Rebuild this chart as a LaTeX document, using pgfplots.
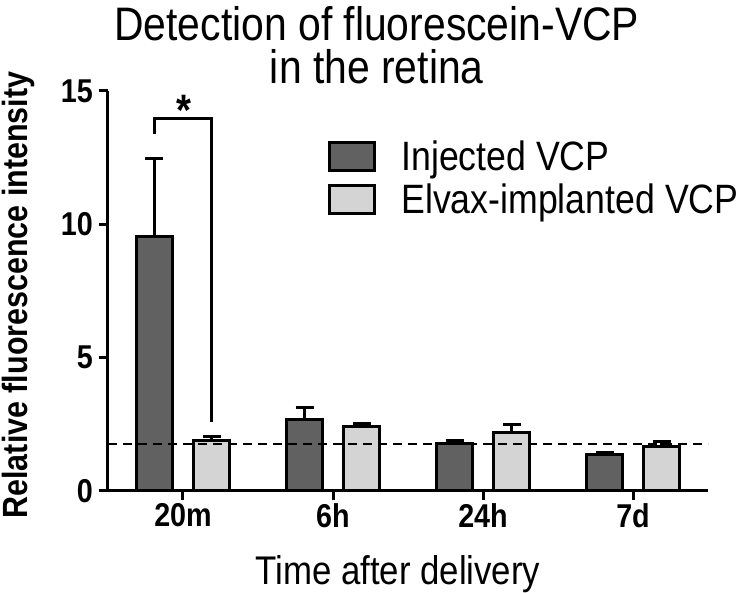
\documentclass[border=0pt]{standalone}
\usepackage{fontspec}
\setmainfont{Liberation Sans}[FakeStretch=0.87]
\usepackage{pgfplots}
\pgfplotsset{compat=1.18}
\definecolor{darkbar}{HTML}{616161}
\definecolor{lightbar}{HTML}{D4D4D4}
\pgfplotsset{
  boxlegend/.style={legend image code/.code={\draw[##1,line width=3pt] (0pt,-14pt) rectangle (45pt,14pt);}},
  barplot/.style={draw=black, line width=3pt, boxlegend,
    error bars/.cd, y dir=plus, y explicit,
    error bar style={line width=3pt, black},
    error mark options={rotate=90, mark size=9pt, line width=3pt, black},
    /pgfplots/.cd},
}
\newcommand\tickfont{\bfseries\fontsize{33}{33}\selectfont}
\begin{document}
\begin{tikzpicture}
\path[use as bounding box] (-108pt,-102pt) rectangle (644pt,491pt);
\begin{axis}[
  scale only axis, width=600pt, height=400pt,
  ybar, bar width=36pt,
  xmin=-0.5, xmax=3.5, ymin=0, ymax=15,
  axis lines*=left, axis line style={line width=3pt},
  xtick={0,1,2,3}, xticklabels={20m,6h,24h,7d},
  ytick={0,5,10,15},
  tick align=outside, major tick length=9pt,
  every tick/.style={line width=3pt, black},
  xticklabel style={font=\tickfont, inner sep=3pt},
  yticklabel style={font=\tickfont, inner sep=6pt},
  /pgf/number format/assume math mode=true,
  title={Detection of fluorescein-VCP\\in the retina},
  title style={at={(axis description cs:0.448,1)}, anchor=north, yshift=79pt,
    align=center, inner sep=0pt, font=\fontsize{47}{43}\selectfont},
  xlabel={Time after delivery},
  xlabel style={at={(axis description cs:0.483,0)}, anchor=north, yshift=-64pt,
    inner sep=0pt, font=\fontsize{40}{40}\selectfont},
  ylabel={Relative fluorescence intensity},
  ylabel style={at={(axis description cs:-0.1217,0.49)}, anchor=south,
    inner sep=0pt, font=\bfseries\fontsize{35}{35}\selectfont},
  legend style={at={(axis description cs:0.367,0.875)}, anchor=north west,
    draw=none, fill=none, font=\fontsize{41}{41}\selectfont, row sep=11pt,
    inner sep=0pt, nodes={inner sep=0pt},
    /tikz/every odd column/.append style={column sep=25pt}},
  legend cell align=left,
  clip=false,
]
\addplot[barplot, bar shift=-28.5pt, fill=darkbar] coordinates {
  (0,9.55) +- (0,2.9)
  (1,2.68) +- (0,0.45)
  (2,1.79) +- (0,0.12)
  (3,1.35) +- (0,0.11)
};
\addlegendentry{Injected VCP}
\addplot[barplot, bar shift=28.5pt, fill=lightbar] coordinates {
  (0,1.88) +- (0,0.18)
  (1,2.40) +- (0,0.12)
  (2,2.18) +- (0,0.33)
  (3,1.66) +- (0,0.18)
};
\addlegendentry{Elvax-implanted VCP}
\addplot[sharp plot, bar shift=0pt, forget plot, black, line width=2pt,
  dash pattern=on 9pt off 6pt] coordinates {
  (-0.5,1.75) (3.5,1.75)
};
\draw[line width=3pt] (axis cs:-0.19,13.4) |- (axis cs:0.19,13.95) -- (axis cs:0.19,2.6);
\node[anchor=base, inner sep=0pt, font=\bfseries\fontsize{44}{44}\selectfont] at (axis cs:0.005,13.7) {*};
\end{axis}
\end{tikzpicture}
\end{document}
